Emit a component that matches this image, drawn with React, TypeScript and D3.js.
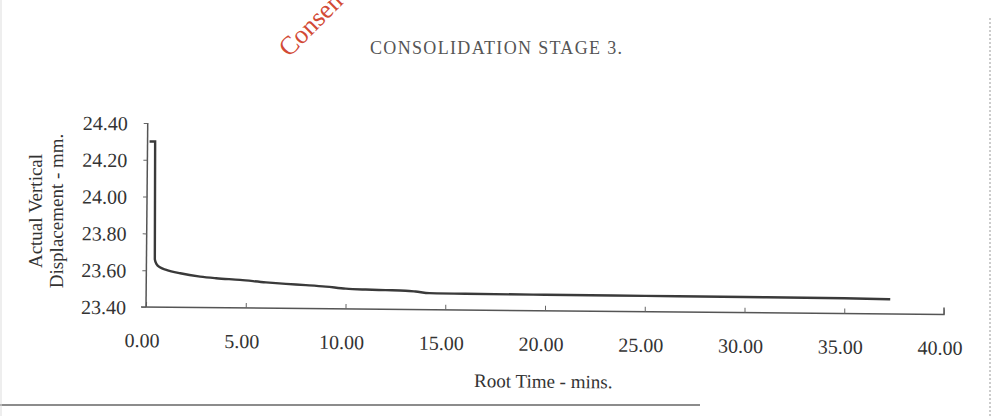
import React, { useEffect, useRef } from 'react';
import * as d3 from 'd3';

// root time (mins) vs actual vertical displacement (mm)
const rootTime = [0.1, 0.38, 0.42, 0.5, 0.7, 1.0, 1.7, 2.7, 3.5, 4.7, 6, 7, 8, 9, 10, 11, 12, 13, 13.5, 14.2, 16, 20, 25, 30, 35, 37.3];
const displacement = [24.3, 24.3, 23.66, 23.635, 23.615, 23.603, 23.585, 23.568, 23.56, 23.552, 23.54, 23.533, 23.527, 23.52, 23.51, 23.506, 23.504, 23.502, 23.498, 23.49, 23.488, 23.487, 23.486, 23.485, 23.483, 23.48];

const xTicks = [0, 5, 10, 15, 20, 25, 30, 35, 40];
const yTicks = [23.4, 23.6, 23.8, 24.0, 24.2, 24.4];

const chartTitle = 'CONSOLIDATION STAGE 3.';
const xTitle = 'Root Time - mins.';
const yTitle = ['Actual Vertical', 'Displacement - mm.'];
const stamp = 'Consen';

const W = 995;
const H = 416;

const App: React.FC = () => {
    const svgRef = useRef<SVGSVGElement>(null);

    useEffect(() => {
        if (!svgRef.current) return;
        const svg = d3.select(svgRef.current);
        svg.selectAll('*').remove();

        const font = '"Liberation Serif", "Times New Roman", serif';

        svg.append('rect').attr('width', W).attr('height', H).attr('fill', '#fff');

        // scan page edges
        svg.append('line')
            .attr('x1', 990).attr('x2', 990).attr('y1', 18).attr('y2', H)
            .attr('stroke', '#999').attr('stroke-width', 1).attr('stroke-dasharray', '2,2');
        svg.append('line')
            .attr('x1', 0).attr('x2', 700).attr('y1', 405).attr('y2', 405)
            .attr('stroke', '#666').attr('stroke-width', 1.5);
        svg.append('line')
            .attr('x1', 1).attr('x2', 1).attr('y1', 0).attr('y2', H)
            .attr('stroke', '#ddd').attr('stroke-width', 1);

        // red stamp, cut off by the top of the scan
        svg.append('text')
            .attr('transform', 'translate(289,58) rotate(-45)')
            .style('font-family', font)
            .style('font-size', '26px')
            .attr('fill', '#d24a35')
            .text(stamp);

        svg.append('text')
            .attr('x', 496).attr('y', 54)
            .attr('text-anchor', 'middle')
            .attr('textLength', 252)
            .style('font-family', font)
            .style('font-size', '18px')
            .attr('fill', '#555')
            .text(chartTitle);

        const margin = { left: 146, top: 123, right: 944, bottom: 307 };
        const x = d3.scaleLinear().domain([0, 40]).range([margin.left, margin.right]);
        const y = d3.scaleLinear().domain([23.4, 24.4]).range([margin.bottom, margin.top]);

        // the scanned page is a touch skewed
        const g = svg.append('g').attr('transform', `rotate(0.54, ${margin.left}, ${margin.bottom})`);

        const xAxis = g.append('g')
            .attr('transform', `translate(0,${margin.bottom})`)
            .call(d3.axisBottom(x).tickValues(xTicks).tickSize(-5).tickPadding(26).tickFormat(d3.format('.2f')));
        xAxis.select('.domain').attr('d', `M${margin.left - 5},0H${margin.right}V-7`);
        xAxis.selectAll('.tick text').attr('dx', -4);

        const yAxis = g.append('g')
            .attr('transform', `translate(${margin.left},0)`)
            .call(d3.axisLeft(y).tickValues(yTicks).tickSize(4).tickPadding(16).tickFormat(d3.format('.2f')));
        yAxis.select('.domain').attr('d', `M0,${margin.top}V${margin.bottom}`);

        g.selectAll('.domain').attr('stroke', '#555').attr('stroke-width', 1.5);
        g.selectAll('.tick line').attr('stroke', '#666').attr('stroke-width', 1);
        g.selectAll('.tick text')
            .style('font-family', font)
            .style('font-size', '20px')
            .attr('fill', '#333');
        yAxis.selectAll('.tick text').attr('dy', '0.35em');

        const points = rootTime.map((t, i) => [t, displacement[i]] as [number, number]);
        const line = d3.line<[number, number]>()
            .x(d => x(d[0]))
            .y(d => y(d[1]))
            .curve(d3.curveMonotoneX);
        g.append('path')
            .datum(points)
            .attr('d', line)
            .attr('fill', 'none')
            .attr('stroke', '#3a3a3a')
            .attr('stroke-width', 2.4);

        g.append('text')
            .attr('x', 544).attr('y', 384)
            .attr('text-anchor', 'middle')
            .style('font-family', font)
            .style('font-size', '19px')
            .attr('fill', '#333')
            .text(xTitle);

        yTitle.forEach((t, i) => {
            svg.append('text')
                .attr('transform', `translate(${42 + i * 21},211) rotate(-90)`)
                .attr('text-anchor', 'middle')
                .style('font-family', font)
                .style('font-size', '19px')
                .attr('fill', '#333')
                .text(t);
        });
    }, []);

    return (
        <svg ref={svgRef} width={W} height={H} style={{ position: 'absolute', left: 0, top: 0 }} />
    );
};

export default App;
